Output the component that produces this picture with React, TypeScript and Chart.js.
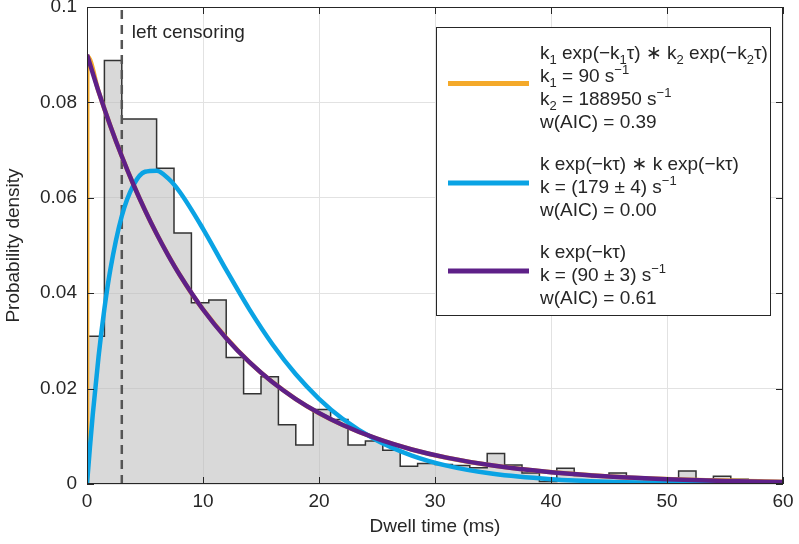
import React, { useEffect, useRef } from 'react';
import { Chart, registerables } from 'chart.js';
Chart.register(...registerables);

// ---------- data ----------
const binEdges = [0, 1.5, 3, 4.5, 6, 7.5, 9, 10.5, 12, 13.5, 15, 16.5, 18, 19.5, 21, 22.5, 24, 25.5, 27, 28.5, 30, 31.5, 33, 34.5, 36, 37.5, 39, 40.5, 42, 43.5, 45, 46.5, 48, 49.5, 51, 52.5, 54, 55.5, 57, 58.5, 60];
const histValues = [0.031, 0.0888, 0.0765, 0.0765, 0.0662, 0.0526, 0.038, 0.0386, 0.0265, 0.0189, 0.0225, 0.0124, 0.0082, 0.0156, 0.0135, 0.0082, 0.009, 0.0071, 0.0037, 0.0043, 0.0041, 0.0039, 0.0034, 0.0064, 0.004, 0.0023, 0.0005, 0.0033, 0.0018, 0.0015, 0.0023, 0.0012, 0.0009, 0.0008, 0.0027, 0.001, 0.0016, 0.001, 0.0005, 0.0003];

const purpleT = [0, 1, 2, 3, 4, 5, 6, 7, 8, 10, 12, 14, 16, 18, 20, 22, 25, 28, 31, 35, 40, 45, 50, 55, 60];
const purpleY = [0.09, 0.08225, 0.07517, 0.0687, 0.06279, 0.05739, 0.05245, 0.04793, 0.04381, 0.03659, 0.03056, 0.02553, 0.02132, 0.01781, 0.01488, 0.01243, 0.00949, 0.00724, 0.00553, 0.00386, 0.00246, 0.00157, 0.001, 0.00064, 0.00041];

const blueT = [0, 0.25, 0.5, 1, 1.5, 2, 3, 4, 5, 6, 7, 8, 10, 12, 14, 16, 18, 20, 22, 25, 28, 31, 35, 40, 45, 50, 55, 60];
const blueY = [0, 0.00766, 0.01465, 0.02679, 0.03674, 0.0448, 0.05618, 0.06263, 0.06546, 0.06568, 0.06407, 0.06122, 0.0535, 0.04488, 0.0366, 0.02924, 0.023, 0.01787, 0.01374, 0.00912, 0.00597, 0.00386, 0.00213, 0.001, 0.00046, 0.00021, 0.00009, 0.00004];

const orangeT = [0, 0.02, 0.05, 1, 2, 3, 4, 5, 6, 8, 10, 14, 18, 22, 28, 35, 45, 60];
const orangeY = [0, 0.0879, 0.0896, 0.08225, 0.07517, 0.0687, 0.06279, 0.05739, 0.05245, 0.04381, 0.03659, 0.02553, 0.01781, 0.01243, 0.00724, 0.00386, 0.00157, 0.00041];

const censorTime = 3;
const censorLabel = 'left censoring';
const yTickLabels = ['0', '0.02', '0.04', '0.06', '0.08', '0.1'];
const xTickLabels = ['0', '10', '20', '30', '40', '50', '60'];
const xTitle = 'Dwell time (ms)';
const yTitle = 'Probability density';

type Seg = [string, 'n' | 'sub' | 'sup'];
const legendEntries: { color: string; rows: Seg[][] }[] = [
  {
    color: '#F4A92A',
    rows: [
      [['k', 'n'], ['1', 'sub'], [' exp(\u2212k', 'n'], ['1', 'sub'], ['\u03C4) \u2217 k', 'n'], ['2', 'sub'], [' exp(\u2212k', 'n'], ['2', 'sub'], ['\u03C4)', 'n']],
      [['k', 'n'], ['1', 'sub'], [' = 90 s', 'n'], ['\u22121', 'sup']],
      [['k', 'n'], ['2', 'sub'], [' = 188950 s', 'n'], ['\u22121', 'sup']],
      [['w(AIC) = 0.39', 'n']],
    ],
  },
  {
    color: '#0AA3E4',
    rows: [
      [['k exp(\u2212k\u03C4) \u2217 k exp(\u2212k\u03C4)', 'n']],
      [['k = (179 \u00B1 4) s', 'n'], ['\u22121', 'sup']],
      [['w(AIC) = 0.00', 'n']],
    ],
  },
  {
    color: '#5E2088',
    rows: [
      [['k exp(\u2212k\u03C4)', 'n']],
      [['k = (90 \u00B1 3) s', 'n'], ['\u22121', 'sup']],
      [['w(AIC) = 0.61', 'n']],
    ],
  },
];

const FONT = "'Liberation Sans', Arial, 'DejaVu Sans', sans-serif";
const TEXT = '#262626';
const FS = 19;

function drawRich(ctx: CanvasRenderingContext2D, segs: Seg[], x: number, y: number) {
  let cx = x;
  for (const [t, k] of segs) {
    const fs = k === 'n' ? FS : 13;
    ctx.font = `${fs}px ${FONT}`;
    const dy = k === 'sub' ? 5 : k === 'sup' ? -8 : 0;
    ctx.fillText(t, cx, y + dy);
    cx += ctx.measureText(t).width;
  }
}

const overlay = {
  id: 'overlay',
  afterDatasetsDraw(chart: any) {
    const { ctx, chartArea: a, scales } = chart;
    const xs = scales.x, ys = scales.y;
    ctx.save();
    // left censoring label
    ctx.fillStyle = TEXT;
    ctx.font = `${FS}px ${FONT}`;
    ctx.textBaseline = 'middle';
    ctx.textAlign = 'left';
    ctx.fillText(censorLabel, xs.getPixelForValue(censorTime) + 10, a.top + 26);

    // axes box
    ctx.strokeStyle = TEXT;
    ctx.lineWidth = 1;
    ctx.strokeRect(Math.round(a.left) + 0.5, Math.round(a.top) + 0.5, Math.round(a.right - a.left) - 1, Math.round(a.bottom - a.top) - 1);
    // inward ticks
    ctx.beginPath();
    xs.ticks.forEach((t: any) => {
      const px = Math.round(xs.getPixelForValue(t.value)) + 0.5;
      ctx.moveTo(px, a.bottom); ctx.lineTo(px, a.bottom - 7);
      ctx.moveTo(px, a.top); ctx.lineTo(px, a.top + 7);
    });
    ys.ticks.forEach((t: any) => {
      const py = Math.round(ys.getPixelForValue(t.value)) + 0.5;
      ctx.moveTo(a.left, py); ctx.lineTo(a.left + 7, py);
      ctx.moveTo(a.right, py); ctx.lineTo(a.right - 7, py);
    });
    ctx.stroke();

    // axis titles
    ctx.fillStyle = TEXT;
    ctx.font = `${FS}px ${FONT}`;
    ctx.textAlign = 'center';
    ctx.textBaseline = 'middle';
    ctx.fillText(xTitle, (a.left + a.right) / 2, a.bottom + 43);
    ctx.save();
    ctx.translate(a.left - 73, (a.top + a.bottom) / 2);
    ctx.rotate(-Math.PI / 2);
    ctx.fillText(yTitle, 0, 0);
    ctx.restore();

    // legend
    const bx = a.right - 347, by = a.top + 20, bw = 334, bh = 288;
    ctx.fillStyle = '#ffffff';
    ctx.fillRect(bx, by, bw, bh);
    ctx.strokeStyle = TEXT;
    ctx.lineWidth = 1;
    ctx.strokeRect(bx + 0.5, by + 0.5, bw, bh);
    ctx.textAlign = 'left';
    ctx.textBaseline = 'alphabetic';
    const rowH = 23, gap = 42;
    let ry = by + 24.5;
    legendEntries.forEach((e) => {
      const first = ry;
      e.rows.forEach((r) => {
        ctx.fillStyle = TEXT;
        drawRich(ctx, r, bx + 104, ry + 7);
        ry += rowH;
      });
      const last = ry - rowH;
      const ly = (first + last) / 2 - 2.5;
      ctx.strokeStyle = e.color;
      ctx.lineWidth = 5;
      ctx.beginPath();
      ctx.moveTo(bx + 12, ly);
      ctx.lineTo(bx + 93, ly);
      ctx.stroke();
      ry = last + gap;
    });
    ctx.restore();
  },
};

export default function App() {
  const ref = useRef<HTMLCanvasElement>(null);
  useEffect(() => {
    document.body.style.margin = '0';
    const canvas = ref.current!;
    const histPoints: { x: number; y: number }[] = [{ x: binEdges[0], y: 0 }];
    histValues.forEach((v, i) => histPoints.push({ x: binEdges[i], y: v }));
    histPoints.push({ x: binEdges[binEdges.length - 1], y: histValues[histValues.length - 1] });
    histPoints.push({ x: binEdges[binEdges.length - 1], y: 0 });

    const pts = (ts: number[], vs: number[]) => ts.map((t, i) => ({ x: t, y: vs[i] }));
    const tickFont = { family: FONT, size: FS };

    const chart = new Chart(canvas, {
      type: 'line',
      data: {
        datasets: [
          {
            label: 'k exp(-kt)',
            data: pts(purpleT, purpleY),
            borderColor: legendEntries[2].color,
            borderWidth: 4.5,
            pointRadius: 0,
            cubicInterpolationMode: 'monotone',
            fill: false,
            order: 0,
          },
          {
            label: 'k exp * k exp',
            data: pts(blueT, blueY),
            borderColor: legendEntries[1].color,
            borderWidth: 4.5,
            pointRadius: 0,
            cubicInterpolationMode: 'monotone',
            fill: false,
            order: 1,
          },
          {
            label: 'k1 k2',
            data: pts(orangeT, orangeY),
            borderColor: legendEntries[0].color,
            borderWidth: 4.5,
            pointRadius: 0,
            cubicInterpolationMode: 'monotone',
            fill: false,
            order: 2,
          },
          {
            label: 'censor',
            data: [{ x: censorTime, y: 0 }, { x: censorTime, y: 0.1 }],
            borderColor: '#555555',
            borderWidth: 2.5,
            borderDash: [9, 6],
            pointRadius: 0,
            fill: false,
            order: 3,
          },
          {
            label: 'histogram',
            data: histPoints,
            borderColor: '#333333',
            borderWidth: 1.5,
            backgroundColor: 'rgba(185,185,185,0.55)',
            stepped: true,
            pointRadius: 0,
            fill: 'origin',
            order: 4,
          },
        ],
      },
      options: {
        animation: false,
        responsive: false,
        devicePixelRatio: 1,
        layout: { padding: { top: 7, right: 16, left: 0, bottom: 0 } },
        plugins: { legend: { display: false }, tooltip: { enabled: false } },
        scales: {
          x: {
            type: 'linear',
            min: 0,
            max: 60,
            ticks: {
              stepSize: 10,
              font: tickFont,
              color: TEXT,
              padding: 6,
              maxRotation: 0,
              callback: (v: any, i: number) => xTickLabels[i] ?? String(v),
            },
            grid: { color: '#e2e2e2', drawTicks: false },
            border: { display: false },
            afterFit: (s: any) => { s.height = 60; s.paddingLeft = 0; s.paddingRight = 0; },
          },
          y: {
            type: 'linear',
            min: 0,
            max: 0.1,
            ticks: {
              stepSize: 0.02,
              font: tickFont,
              color: TEXT,
              padding: 10,
              callback: (v: any, i: number) => yTickLabels[i] ?? String(v),
            },
            grid: { color: '#e2e2e2', drawTicks: false },
            border: { display: false },
            afterFit: (s: any) => { s.width = 87; s.paddingTop = 0; s.paddingBottom = 0; },
          },
        },
      },
      plugins: [overlay],
    } as any);
    return () => chart.destroy();
  }, []);
  return (
    <div style={{ width: 799, height: 544 }}>
      <canvas ref={ref} width={799} height={544} style={{ display: 'block', width: 799, height: 544 }} />
    </div>
  );
}
